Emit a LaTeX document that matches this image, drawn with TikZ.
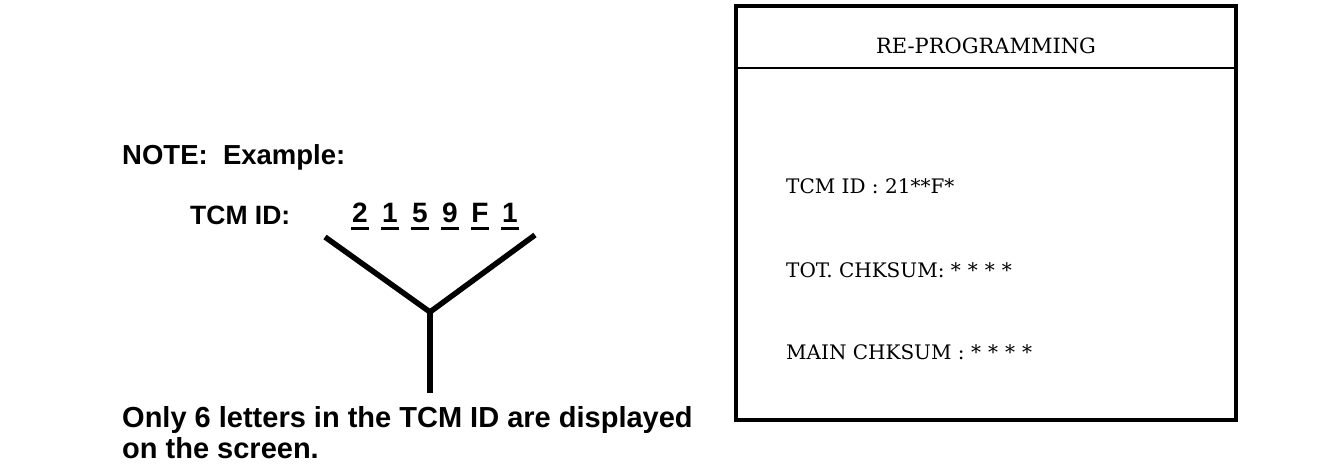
\documentclass[tikz,border=0pt]{standalone}
\usepackage{fontspec}
\setmainfont{DejaVu Serif}
\setsansfont{Liberation Sans}
\newcommand{\spast}{\hspace{7pt}*}
\begin{document}
\begin{tikzpicture}[x=1pt,y=-1pt,
  note/.style={font=\sffamily\bfseries\fontsize{27.5}{31}\selectfont, inner sep=0pt, anchor=west},
  screen/.style={font=\fontsize{20}{24}\selectfont, inner sep=0pt, anchor=west},
  digit/.style={font=\sffamily\bfseries\fontsize{28}{31}\selectfont, inner sep=0pt},
  uline/.style={line width=3pt},
  yline/.style={line width=5.5pt}]
\useasboundingbox (0,0) rectangle (1328,476);
% left part
\node[note] (note) at (122,157) {NOTE:\ \ Example:};
\node[note, font=\sffamily\bfseries\fontsize{26.5}{31}\selectfont] (tcm) at (190,215) {TCM ID:};
\foreach \c [count=\i] in {2,1,5,9,F,1}{
  \node[digit] (d\i) at ({360+(\i-1)*30},213) {\c};
  \draw[uline] ([xshift=-9pt]d\i.center |- 0,228) -- ([xshift=9pt]d\i.center |- 0,228);
}
\coordinate (la) at (325,237);
\coordinate (ra) at (535,235);
\coordinate (j) at (430,312);
\coordinate (s) at (430,393);
\draw[yline] (la) -- (j) -- (ra);
\draw[yline] (j) -- (s);
\node[note, anchor=north west, align=left, font=\sffamily\bfseries\fontsize{29}{31}\selectfont] (only) at (122,406) {Only 6 letters in the TCM ID are displayed\\on the screen.};
% right box
\draw[line width=3.5pt] (736,6) rectangle (1236,420);
\draw[line width=2pt] (736,68) -- (1236,68);
\node[font=\fontsize{21}{25}\selectfont, inner sep=0pt] (title) at (986,46) {RE-PROGRAMMING};
\node[screen] (id) at (786,186) {TCM ID : 21**F*};
\node[screen] (tot) at (786,270) {TOT. CHKSUM: *\spast\spast\spast};
\node[screen] (main) at (786,352) {MAIN CHKSUM : *\spast\spast\spast};
\end{tikzpicture}
\end{document}
